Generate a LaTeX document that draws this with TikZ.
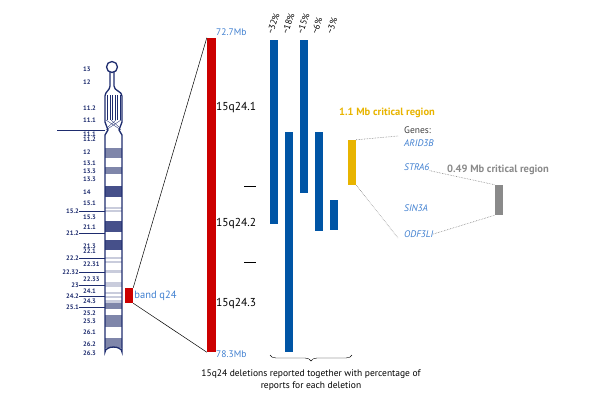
\documentclass[tikz,border=0pt]{standalone}
\usepackage{fontspec}
\setmainfont{PT Sans}
\usetikzlibrary{decorations.pathreplacing,patterns}
\definecolor{navy}{HTML}{1E2C6E}
\definecolor{bandg}{HTML}{7F86AA}
\definecolor{bandd}{HTML}{46508A}
\definecolor{bandl}{HTML}{C9CCDC}
\definecolor{dblue}{HTML}{0055A5}
\definecolor{lblue}{HTML}{3F7FD0}
\definecolor{gold}{HTML}{E8B400}
\definecolor{gr}{HTML}{8A8A8A}
\begin{document}
\begin{tikzpicture}[x=1pt,y=-1pt,
  chl/.style={font=\fontsize{6.5}{6.5}\selectfont\bfseries,text=navy,inner sep=0pt},
  del/.style={fill=dblue,draw=none},
  gene/.style={font=\fontsize{9.5}{10}\selectfont\itshape,text=lblue,anchor=west,inner sep=0pt},
  dots/.style={densely dotted,gray,line width=0.6pt}]
\useasboundingbox (0,0) rectangle (600,400);
% chromosome bands
\foreach \a/\b/\c in {148/158/bandg,167/174/bandg,186/197/bandd,207/209/bandl,210/212/bandl,221/232/bandd,240/250/bandd,257/259/bandl,261/263/bandl,270/273/bandl,282/287/bandl,292/294/bandl,296/298/bandl,300/303/bandl,303/309/bandg,315/327/bandg,338/348/bandg}
  \fill[\c] (105,\a) rectangle (122,\b);
\foreach \x in {107.5,110,...,120} \draw[navy,line width=0.3pt] (\x,95) -- (\x,120);
\draw[navy,line width=0.3pt] (106,120) -- (121,130) (121,120) -- (106,130) (111,120)--(119,127) (116,120)--(108,127);
\draw[navy,line width=1.3pt] (110,72) -- (110,86) to[out=270,in=90] (105,96) -- (105,122) to[out=270,in=90] (108,130) to[out=270,in=90] (105,135) -- (105,352) arc[start angle=180,end angle=0,x radius=8.5,y radius=-5] -- (122,135) to[out=90,in=270] (119,130) to[out=90,in=270] (122,122) -- (122,96) to[out=90,in=270] (114,86) -- (114,72);
\draw[navy,line width=1.3pt] (112,67) circle[radius=5.5];
\draw[navy,line width=0.6pt] (57,130) -- (105,130);
\foreach \y/\t in {69/13,82/12,108/11.2,120/11.1,134/11.1,139/11.2,152/12,163/13.1,171/13.3,179/13.3,192/14,203/15.1,217/15.3,227/21.1,246/21.3,251/22.1,264/22.31,279/22.33,291/24.1,301/24.3,313/25.2,321/25.3,332/26.1,344/26.2,353/26.3}
  \node[chl,anchor=west] (c\y) at (83,\y) {\t};
\foreach \y/\t in {211/15.2,233/21.2,258/22.2,272/22.32,285/23,296/24.2,307/25.1}
  {\node[chl,anchor=east] (l\y) at (79,\y) {\t};
   \draw[navy,line width=0.4pt] (l\y.east) -- (105,\y);}
% red box and zoom lines
\node[fill=red!80!black,minimum width=8pt,minimum height=15pt,inner sep=0pt] (rb) at (129,295.5) {};
\node[anchor=west,font=\fontsize{10.5}{11}\selectfont,text=lblue,inner sep=1pt] (bq) at (rb.east) {band q24};
\node[fill=red!80!black,minimum width=9pt,minimum height=314pt,inner sep=0pt] (rbar) at (211.5,195) {};
\draw[line width=0.5pt] (rb.north east) -- (rbar.north west);
\draw[line width=0.5pt] (rb.south east) -- (rbar.south west);
\node[anchor=west,font=\fontsize{9.5}{10}\selectfont,text=lblue,inner sep=1pt] (t1) at (215,32) {72.7Mb};
\node[anchor=west,font=\fontsize{9.5}{10}\selectfont,text=lblue,inner sep=1pt] (t2) at (215,354) {78.3Mb};
\foreach \y/\t in {108/15q24.1,224/15q24.2,304/15q24.3}
  \node[anchor=west,font=\fontsize{11.5}{12}\selectfont,inner sep=1pt] (q\t) at (215,\y) {\t};
\draw (244,186) -- (256,186) (244,262) -- (256,262);
% deletion bars
\foreach \n/\x/\a/\b/\p in {1/274/40/224/32,2/289/132/352/18,3/304/40/193/15,4/318.5/132/231/6,5/333.5/200/230/3}{
  \fill[del] (\x-4,\a) rectangle (\x+4,\b);
  \node[rotate=72,anchor=west,font=\fontsize{9}{9}\selectfont,inner sep=0pt] (p\n) at (\x-4,34) {\textasciitilde\p\%};}
\draw[decorate,decoration={brace,amplitude=6pt,mirror}] (270,355) -- (352,355);
\node[font=\fontsize{9.5}{12}\selectfont,align=center] (cap) at (311,380) {15q24 deletions reported together with percentage of\\reports for each deletion};
% critical regions
\node[fill=gold,minimum width=8pt,minimum height=45pt,inner sep=0pt] (yb) at (352,162.5) {};
\node[anchor=west,font=\fontsize{10.5}{11}\selectfont\bfseries,text=gold,inner sep=0pt] (yl) at (339,113) {1.1 Mb critical region};
\node[anchor=west,font=\fontsize{9.5}{10}\selectfont,text=darkgray,inner sep=0pt] (gn) at (404,130) {Genes:};
\node[gene] (g1) at (404,143) {ARID3B};
\node[gene] (g2) at (404,167) {STRA6};
\node[gene] (g3) at (404,208) {SIN3A};
\node[gene] (g4) at (404,234) {ODF3LI};
\node[fill=gr,minimum width=8pt,minimum height=30pt,inner sep=0pt] (gb) at (499,200) {};
\node[anchor=west,font=\fontsize{10.5}{11}\selectfont\bfseries,text=gr,inner sep=0pt] (gl) at (447,170) {0.49 Mb critical region};
\draw[dots] (yb.north east) -- (398,136);
\draw[dots] (yb.south east) -- (398,238);
\draw[dots] (g2.south east) -- (gb.north west);
\draw[dots] (g4.east) -- (gb.south west);
\end{tikzpicture}
\end{document}
